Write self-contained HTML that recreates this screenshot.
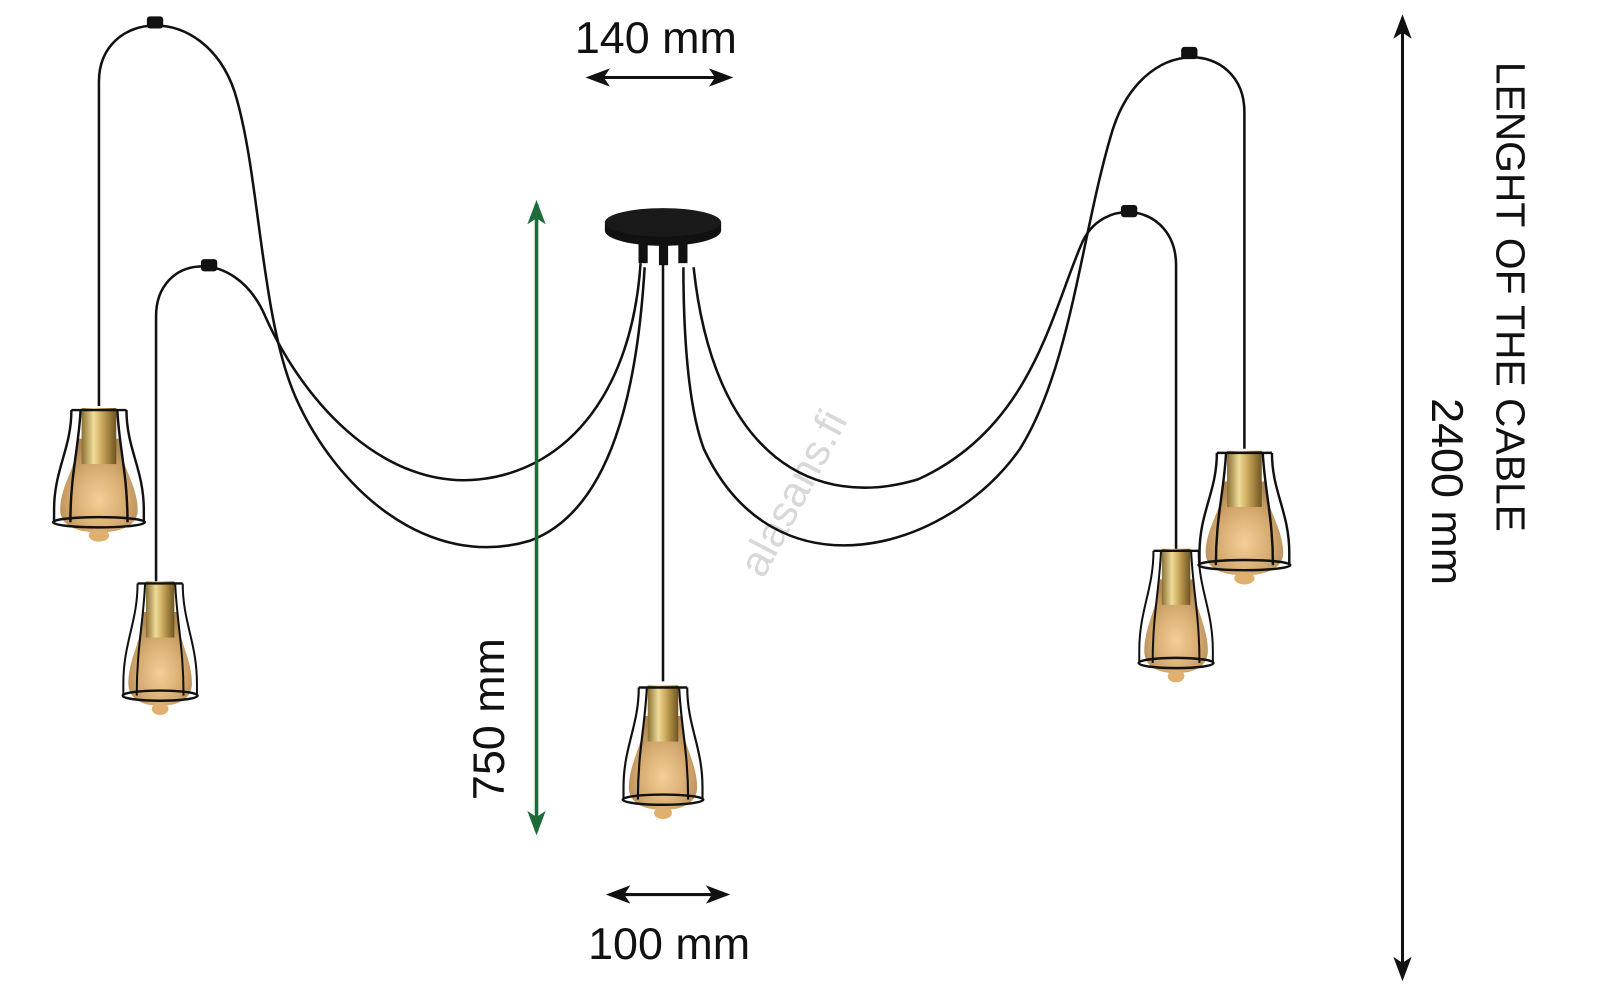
<!DOCTYPE html>
<html><head><meta charset="utf-8"><style>
html,body{margin:0;padding:0;background:#fff;width:1600px;height:987px;overflow:hidden}
text{font-family:"Liberation Sans",sans-serif}
</style></head><body>
<svg width="1600" height="987" viewBox="0 0 1600 987" xmlns="http://www.w3.org/2000/svg">
<defs>
<linearGradient id="gold" x1="0" x2="1" y1="0" y2="0">
<stop offset="0" stop-color="#8a7030"/><stop offset="0.35" stop-color="#f0dc9a"/><stop offset="0.6" stop-color="#c9a75a"/><stop offset="1" stop-color="#6e5420"/></linearGradient>
<radialGradient id="bulb" cx="0.5" cy="0.65" r="0.6">
<stop offset="0" stop-color="#f3c98a"/><stop offset="0.6" stop-color="#d0a060"/><stop offset="1" stop-color="#a87a40"/></radialGradient>
<marker id="ah" markerWidth="24" markerHeight="18" refX="20" refY="9" orient="auto-start-reverse" markerUnits="userSpaceOnUse" viewBox="0 0 24 18"><path d="M0,0 L24,9 L0,18 L6,9z" fill="#111"/></marker>
<marker id="ag" markerWidth="24" markerHeight="18" refX="20" refY="9" orient="auto-start-reverse" markerUnits="userSpaceOnUse" viewBox="0 0 24 18"><path d="M0,0 L24,9 L0,18 L6,9z" fill="#1e6b3a"/></marker>
<g id="lamp">
<path d="M-20,30 C-20,55 -38,75 -38,100 C-38,115 -22,122 0,122 C22,122 38,115 38,100 C38,75 20,55 20,30" fill="url(#bulb)" opacity="0.9"/>
<rect x="-17" y="0" width="34" height="55" fill="url(#gold)"/>
<ellipse cx="0" cy="125" rx="10" ry="6" fill="#e0b070"/>
<g fill="none" stroke="#111" stroke-width="2.4">
<path d="M-27,2 L27,2"/>
<path d="M-27,2 C-27,40 -44,60 -44,100 L-44,112"/>
<path d="M27,2 C27,40 44,60 44,100 L44,112"/>
<path d="M-18,2 C-20,40 -28,65 -28,112"/>
<path d="M18,2 C20,40 28,65 28,112"/>
<ellipse cx="0" cy="112" rx="45" ry="5"/>
</g>
</g>
</defs>
<g transform="scale(1.02)">
<text x="790" y="490" font-size="42" fill="#d8d8d8" transform="rotate(-62 790 490)" text-anchor="middle">alasans.fi</text>

<g fill="none" stroke="#111" stroke-width="2.5">
<path d="M97,398 L97,80 C97,10 200,0 230,90 C255,170 255,310 290,390 C330,480 420,560 520,530 C600,500 625,380 632,262"/>
<path d="M153,570 L153,310 C153,250 230,240 260,310 C300,400 380,480 470,470 C560,460 620,380 628,258"/>
<path d="M650,258 L650,668"/>
<path d="M1153,540 L1153,260 C1153,200 1080,190 1060,240 C1030,310 1010,420 900,470 C800,500 700,450 680,262"/>
<path d="M1220,440 L1220,110 C1220,40 1120,30 1090,130 C1060,230 1050,360 1000,440 C930,540 760,590 690,440 C675,400 670,330 670,262"/>
</g>
<rect x="144" y="16" width="16" height="12" rx="3" fill="#111"/>
<rect x="197" y="254" width="16" height="12" rx="3" fill="#111"/>
<rect x="1099" y="201" width="16" height="12" rx="3" fill="#111"/>
<rect x="1158" y="46" width="16" height="12" rx="3" fill="#111"/>

<path d="M593,218 L593,226 A57,15 0 0 0 707,226 L707,218z" fill="#111"/>
<ellipse cx="650" cy="218" rx="57" ry="14" fill="#1a1a1a"/>
<g fill="#111"><rect x="626" y="236" width="9" height="22"/><rect x="646" y="238" width="9" height="22"/><rect x="665" y="236" width="9" height="22"/></g>

<use href="#lamp" transform="translate(97,400)"/>
<use href="#lamp" transform="translate(157,570) scale(0.82,1)"/>
<use href="#lamp" transform="translate(650,672) scale(0.88,1)"/>
<use href="#lamp" transform="translate(1153,538) scale(0.82,1)"/>
<use href="#lamp" transform="translate(1220,442)"/>

<text x="643" y="52" font-size="44" text-anchor="middle" fill="#111">140 mm</text>
<line x1="578" y1="76" x2="715" y2="76" stroke="#111" stroke-width="3" marker-start="url(#ah)" marker-end="url(#ah)"/>
<line x1="598" y1="877" x2="712" y2="877" stroke="#111" stroke-width="3" marker-start="url(#ah)" marker-end="url(#ah)"/>
<text x="656" y="940" font-size="44" text-anchor="middle" fill="#111">100 mm</text>
<line x1="526" y1="200" x2="526" y2="815" stroke="#1e6b3a" stroke-width="3.5" marker-start="url(#ag)" marker-end="url(#ag)"/>
<text x="0" y="0" font-size="44" text-anchor="middle" fill="#111" transform="translate(494,705) rotate(-90)">750 mm</text>
<line x1="1375" y1="18" x2="1375" y2="958" stroke="#111" stroke-width="3" marker-start="url(#ah)" marker-end="url(#ah)"/>
<text x="0" y="0" font-size="40" text-anchor="middle" fill="#111" transform="translate(1467,291) rotate(90)">LENGHT OF THE CABLE</text>
<text x="0" y="0" font-size="44" text-anchor="middle" fill="#111" transform="translate(1404,482) rotate(90)">2400 mm</text>
</g>
</svg>
</body></html>
